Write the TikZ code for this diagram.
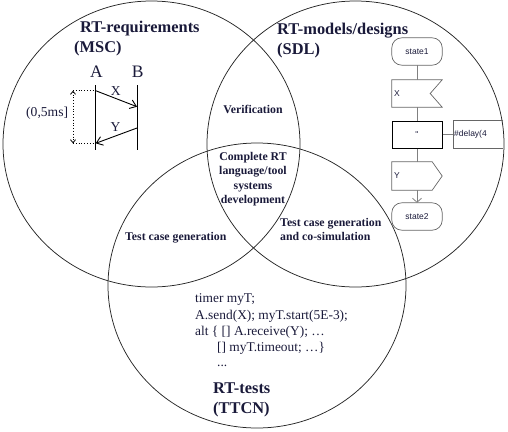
\documentclass[tikz,border=0pt]{standalone}
\usepackage{fontspec}
\setmainfont{Liberation Serif}
\newfontfamily\sdlfont{Liberation Sans}
\usetikzlibrary{arrows.meta}
\definecolor{txt}{HTML}{1A1A3A}
\definecolor{flow}{HTML}{808080}
\begin{document}
\begin{tikzpicture}[x=1pt,y=-1pt,
  venn/.style={draw=black!85, line width=0.75pt},
  title/.style={anchor=base west, inner sep=0, text=txt, font=\bfseries\fontsize{16.4}{20}\selectfont},
  mid/.style={anchor=base, inner sep=0, text=txt, font=\bfseries\fontsize{11.8}{14.5}\selectfont},
  midl/.style={anchor=base west, inner sep=0, text=txt, font=\bfseries\fontsize{11.8}{14.5}\selectfont},
  code/.style={anchor=base west, inner sep=0, text=txt, font=\fontsize{13.4}{16.3}\selectfont},
  msc/.style={anchor=base, inner sep=0, text=txt, font=\fontsize{17.5}{20}\selectfont},
  msglbl/.style={anchor=base, inner sep=0, text=txt, font=\fontsize{13.6}{16}\selectfont},
  sdl/.style={minimum width=50pt, inner sep=0, font=\sdlfont\fontsize{8.5}{10}\selectfont, text=txt},
  sdlline/.style={draw=black!60, line width=0.7pt},
  flowline/.style={draw=flow, line width=0.8pt},
  mscline/.style={draw=black, line width=0.9pt},
  msgarrow/.style={draw=black, line width=0.9pt, -{Straight Barb[length=6pt,width=9pt]}},
]
\useasboundingbox (0,0) rectangle (508,431);

% Venn ellipses
\draw[venn] (151.5,144) ellipse [x radius=148.5pt, y radius=143pt];
\draw[venn] (355.5,144) ellipse [x radius=148.5pt, y radius=143pt];
\draw[venn] (257,285.5) ellipse [x radius=149pt, y radius=142.5pt];

% Titles
\node[title] (t1a) at (80,32.3) {RT-requirements};
\node[title] (t1b) at (74,52.5) {(MSC)};
\node[title] (t2a) at (277,34.3) {RT-models/designs};
\node[title] (t2b) at (277,54.5) {(SDL)};
\node[title] (t3a) at (213,393) {RT-tests};
\node[title] (t3b) at (213,413) {(TTCN)};

% Middle labels
\node[mid] (ver) at (253,113) {Verification};
\node[mid] (c1) at (253,160) {Complete RT};
\node[mid] (c2) at (253,174.5) {language/tool};
\node[mid] (c3) at (253,189) {systems};
\node[mid] (c4) at (253,203.5) {development};
\node[midl] (tcg) at (125,240) {Test case generation};
\node[midl] (tcs1) at (280,226.7) {Test case generation};
\node[midl] (tcs2) at (280,240.7) {and co-simulation};

% TTCN code
\node[code] (l1) at (195,302.5) {timer myT;};
\node[code] (l2) at (195,319) {A.send(X); myT.start(5E-3);};
\node[code] (l3) at (195,335) {alt \{ [] A.receive(Y); …};
\node[code] (l4) at (217,351.5) {[] myT.timeout; …\}};
\node[code] (l5) at (217,366.5) {...};

% MSC
\node[msc] (A) at (96.5,77.3) {A};
\node[msc] (B) at (137.7,77.3) {B};
\coordinate (Atop) at (95.7,85);
\coordinate (Abot) at (95.7,150);
\coordinate (Btop) at (137,85);
\coordinate (Bbot) at (137,150);
\draw[mscline] (Atop) -- (Abot);
\draw[mscline] (Btop) -- (Bbot);
\coordinate (ax) at (95.7,90.7);
\coordinate (bx) at (137,106.7);
\coordinate (by) at (137,128);
\coordinate (ay) at (95.7,143.3);
\draw[msgarrow] (ax) -- (bx);
\draw[msgarrow] (by) -- (ay);
\node[msglbl] (X) at (115.8,95) {X};
\node[msglbl] (Y) at (115.5,131.7) {Y};
\coordinate (d1) at (73,90.7);
\coordinate (d2) at (73,143.3);
\draw[dotted, line width=0.8pt] (d1) -- (ax);
\draw[dotted, line width=0.8pt] (d2) -- (ay);
\draw[dotted, line width=0.8pt, {Straight Barb[length=3pt,width=5pt]}-{Straight Barb[length=3pt,width=5pt]}] (d1) -- (d2);
\node[anchor=base west, inner sep=0, text=txt, font=\fontsize{13.6}{16}\selectfont] (dur) at (26,116.7) {(0,5ms]};

% SDL
\node[sdl, minimum height=27pt] (s1) at (417,51.5) {state1};
\draw[sdlline, rounded corners=10pt] (s1.north west) rectangle (s1.south east);
\node[sdl, minimum height=27pt, text width=46pt, align=left] (xin) at (417,93.5) {X};
\draw[sdlline] (xin.north west) -- (xin.north east) -- ([xshift=-12pt]xin.east) -- (xin.south east) -- (xin.south west) -- cycle;
\node[sdl, draw=black, line width=1pt, minimum height=27pt] (task) at (417,134.5) {\char"22};
\node[sdl, minimum height=27pt, text width=48pt, align=left, anchor=west] (com) at (453,134.5) {\#delay(4};
\draw[sdlline] (com.north east) -- (com.north west) -- (com.south west) -- (com.south east);
\node[sdl, minimum height=28pt, text width=46pt, align=left] (yout) at (417,176) {Y};
\draw[sdlline] (yout.north west) -- ([xshift=-10pt]yout.north east) -- (yout.east) -- ([xshift=-10pt]yout.south east) -- (yout.south west) -- cycle;
\node[sdl, minimum height=27pt] (s2) at (417,216.5) {state2};
\draw[sdlline, rounded corners=10pt] (s2.north west) rectangle (s2.south east);

\draw[flowline] (s1) -- (xin);
\draw[flowline] (xin) -- (task);
\draw[flowline] (task) -- (com);
\draw[flowline] (task) -- (yout);
\draw[flowline, -{Straight Barb[length=4pt,width=9pt]}] (yout) -- (s2);
\end{tikzpicture}
\end{document}
